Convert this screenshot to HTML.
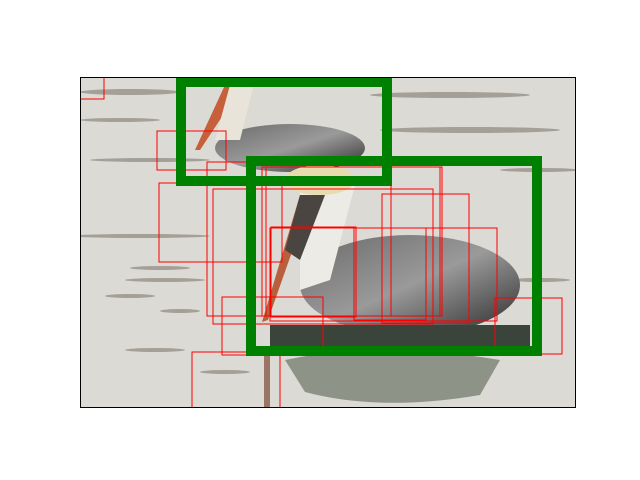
<!DOCTYPE html>
<html><head><meta charset="utf-8"><style>
html,body{margin:0;padding:0;background:#fff;width:640px;height:480px;overflow:hidden}
svg{display:block}
</style></head><body>
<svg width="640" height="480" viewBox="0 0 640 480">
<defs><clipPath id="ax"><rect x="80" y="77" width="496" height="331"/></clipPath>
<linearGradient id="wing" x1="0" y1="0" x2="1" y2="1"><stop offset="0" stop-color="#6a6a6a"/><stop offset="0.5" stop-color="#9a9a9a"/><stop offset="1" stop-color="#2a2a2a"/></linearGradient></defs>
<g clip-path="url(#ax)">
<rect x="80" y="77" width="496" height="331" fill="#dcdad4"/>
<g fill="#6e675c" opacity="0.5">
<ellipse cx="130" cy="92" rx="50" ry="3"/><ellipse cx="450" cy="95" rx="80" ry="3"/>
<ellipse cx="120" cy="120" rx="40" ry="2"/><ellipse cx="470" cy="130" rx="90" ry="3"/>
<ellipse cx="150" cy="160" rx="60" ry="2"/><ellipse cx="540" cy="170" rx="40" ry="2"/>
<ellipse cx="140" cy="236" rx="70" ry="2"/><ellipse cx="160" cy="268" rx="30" ry="2"/>
<ellipse cx="165" cy="280" rx="40" ry="2"/><ellipse cx="130" cy="296" rx="25" ry="2"/>
<ellipse cx="180" cy="311" rx="20" ry="2"/><ellipse cx="155" cy="350" rx="30" ry="2"/>
<ellipse cx="225" cy="372" rx="25" ry="2"/><ellipse cx="540" cy="280" rx="30" ry="2"/>
</g>
<g>
<ellipse cx="290" cy="148" rx="75" ry="24" fill="url(#wing)"/>
<path d="M225 85 L245 82 L200 150 L195 150 Z" fill="#c6603a"/>
<path d="M230 85 L255 80 L240 140 L215 140 Z" fill="#e8e4da"/>
</g>
<g>
<ellipse cx="410" cy="285" rx="110" ry="50" fill="url(#wing)"/>
<path d="M300 180 Q330 160 355 185 L330 280 L300 290 Z" fill="#ecebe5"/>
<ellipse cx="320" cy="180" rx="35" ry="15" fill="#e8dcae"/>
<path d="M300 195 L312 195 L268 320 L262 322 Z" fill="#b8603c"/>
<path d="M300 195 L325 195 L300 260 L285 250 Z" fill="#4a4540"/>
<rect x="270" y="325" width="260" height="25" fill="#3a443a"/>
<path d="M285 360 Q380 340 500 360 L480 395 Q380 412 305 392 Z" fill="#6c7566" opacity="0.7"/>
<rect x="264" y="350" width="6" height="58" fill="#8a5a48" opacity="0.8"/>
</g>
</g>
<g fill="none" stroke="#ff0000" stroke-width="1" clip-path="url(#ax)">
<rect x="80" y="77" width="24" height="22"/>
<rect x="157" y="131" width="69" height="39"/>
<rect x="159" y="183" width="123" height="79"/>
<rect x="207" y="162" width="184" height="154"/>
<rect x="213" y="189" width="220" height="135"/>
<rect x="262" y="167" width="178" height="149"/>
<rect x="266" y="167" width="176" height="149"/>
<rect x="382" y="194" width="87" height="129"/>
<rect x="354" y="228" width="72" height="92"/>
<rect x="270" y="228" width="227" height="93"/>
<rect x="271" y="227" width="85" height="90"/>
<rect x="495" y="298" width="67" height="56"/>
<rect x="222" y="297" width="101" height="58"/>
<rect x="192" y="352" width="88" height="70"/>
</g>
<g fill="none" stroke="#008000" stroke-width="10">
<rect x="181" y="82" width="206" height="99"/>
<rect x="251" y="161" width="286" height="190"/>
</g>
<rect x="80.5" y="77.5" width="495" height="330" fill="none" stroke="#000" stroke-width="1"/>
</svg>
</body></html>
